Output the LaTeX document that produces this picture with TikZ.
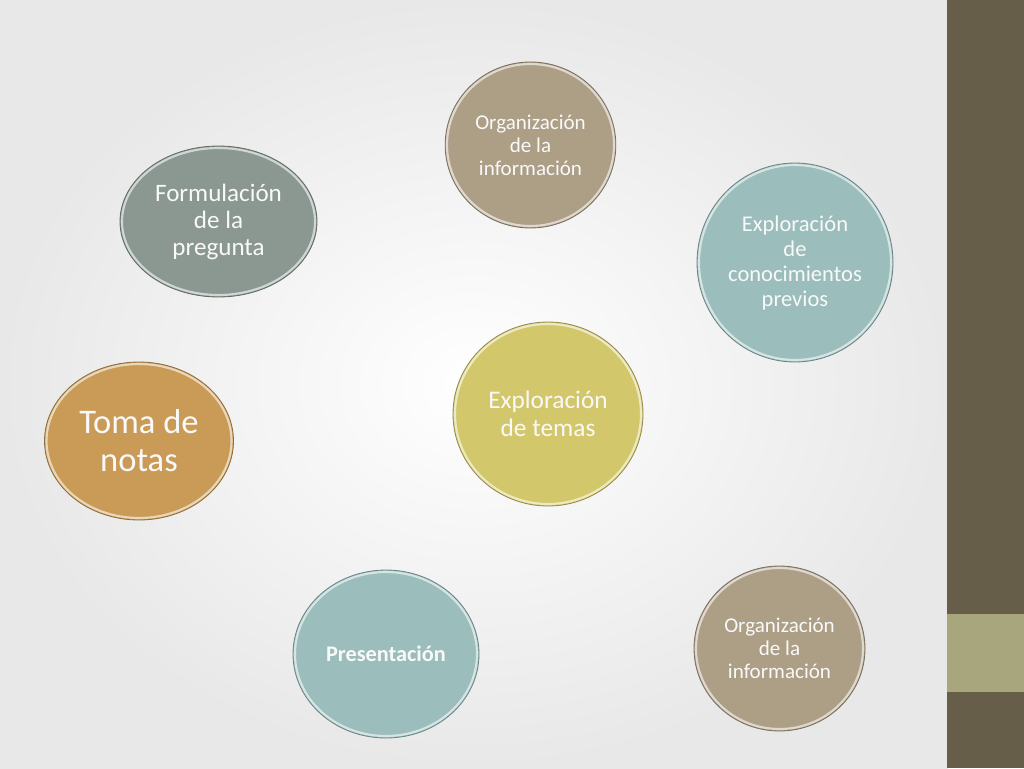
\documentclass[tikz,border=0pt]{standalone}
\usepackage{fontspec}
\setmainfont{Carlito}
\usetikzlibrary{shapes.geometric}
\definecolor{tanc}{HTML}{AD9E86}
\definecolor{grayg}{HTML}{8A9891}
\definecolor{tealc}{HTML}{9BBDBC}
\definecolor{yelc}{HTML}{D3C76C}
\definecolor{oranc}{HTML}{C99B57}
\definecolor{stripdark}{HTML}{665E49}
\definecolor{striplight}{HTML}{A8A67D}
\tikzset{
  bub/.style={ellipse, inner sep=0pt, align=center, text=white!95!gray, line width=0.6pt},
}
\begin{document}
\begin{tikzpicture}[x=0.75pt,y=-0.75pt]
\useasboundingbox (0,0) rectangle (1024,768);
\shade[inner color=white, outer color=black!9] (0,0) rectangle (948,768);
\fill[stripdark] (947,0) rectangle (1024,768);
\fill[striplight] (947,614) rectangle (1024,692);
% bubbles
\node[bub, fill=tanc, draw=tanc!70!black, minimum width=128pt, minimum height=124.5pt, font=\fontsize{15.8}{17.25}\selectfont] (org1) at (530.5,145) {Organización\\de la\\información};
\draw[tanc!40!white, line width=1.6pt] (org1.center) ellipse (83.5 and 81);
\node[bub, fill=grayg, draw=grayg!70!black, minimum width=147.75pt, minimum height=113.25pt, font=\fontsize{18.8}{20.25}\selectfont] (form) at (218.5,221.5) {Formulación\\de la\\pregunta};
\draw[grayg!40!white, line width=1.6pt] (form.center) ellipse (96.5 and 73.5);
\node[bub, fill=tealc, draw=tealc!70!black, minimum width=147pt, minimum height=149.25pt, font=\fontsize{16.9}{18.75}\selectfont] (prev) at (795,262.5) {Exploración\\de\\conocimientos\\previos};
\draw[tealc!40!white, line width=1.6pt] (prev.center) ellipse (96 and 97.5);
\node[bub, fill=yelc, draw=yelc!70!black, minimum width=142.5pt, minimum height=138pt, font=\fontsize{19}{21}\selectfont] (temas) at (548,414) {Exploración\\de temas};
\draw[yelc!40!white, line width=1.6pt] (temas.center) ellipse (93 and 90);
\node[bub, fill=oranc, draw=oranc!70!black, minimum width=141.75pt, minimum height=118.5pt, font=\fontsize{25.9}{28.5}\selectfont] (toma) at (139,441) {Toma de\\notas};
\draw[oranc!40!white, line width=1.6pt] (toma.center) ellipse (92.5 and 77);
\node[bub, fill=tealc, draw=tealc!70!black, minimum width=139.5pt, minimum height=126pt, font=\fontsize{16.7}{17.5}\selectfont\bfseries] (pres) at (386,654) {Presentación};
\draw[tealc!40!white, line width=1.6pt] (pres.center) ellipse (91 and 82);
\node[bub, fill=tanc, draw=tanc!70!black, minimum width=128.25pt, minimum height=123.75pt, font=\fontsize{15.8}{17.25}\selectfont] (org2) at (779.5,648.5) {Organización\\de la\\información};
\draw[tanc!40!white, line width=1.6pt] (org2.center) ellipse (83.5 and 80.5);
\end{tikzpicture}
\end{document}
